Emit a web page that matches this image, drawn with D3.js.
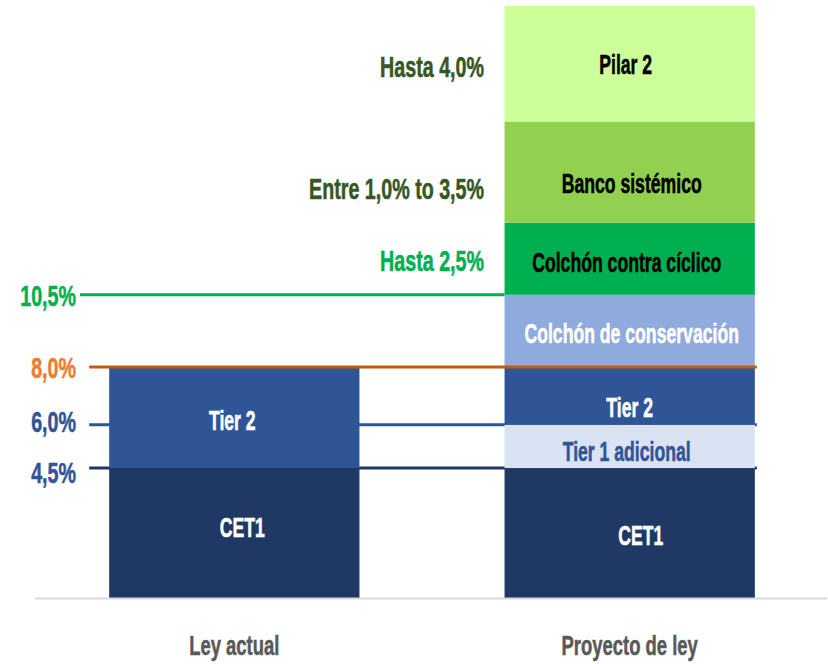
<!DOCTYPE html>
<html>
<head>
<meta charset="utf-8">
<script src="https://cdn.jsdelivr.net/npm/d3@7"></script>
<style>
  body { margin: 0; background: #fff; }
  text { font-family: "Liberation Sans", Arial, sans-serif; font-weight: bold; }
</style>
</head>
<body>
<div id="chart"></div>
<script>
// data
const categories = ["Ley actual", "Proyecto de ley"];
const components = ["CET1", "Tier 1 adicional", "Tier 2", "Colchón de conservación",
                    "Colchón contra cíclico", "Banco sistémico", "Pilar 2"];
const leyActual = [4.5, 0, 3.5, 0, 0, 0, 0];
const proyectoLey = [4.5, 1.5, 2.0, 2.5, 2.5, 3.5, 4.0];
const thresholds = [10.5, 8.0, 6.0, 4.5];
const thresholdLabels = ["10,5%", "8,0%", "6,0%", "4,5%"];
const rangeNotes = ["Hasta 2,5%", "Entre 1,0% to 3,5%", "Hasta 4,0%"];
const rangeNoteFor = ["Colchón contra cíclico", "Banco sistémico", "Pilar 2"];

const width = 828, height = 664;
const fill = {
  "CET1": "#203864", "Tier 1 adicional": "#DAE3F3", "Tier 2": "#2F5597",
  "Colchón de conservación": "#8FAADC", "Colchón contra cíclico": "#00B050",
  "Banco sistémico": "#92D050", "Pilar 2": "#CCFF99"
};
const ink = {
  "CET1": "#fff", "Tier 1 adicional": "#2F5597", "Tier 2": "#fff",
  "Colchón de conservación": "#fff", "Colchón contra cíclico": "#000",
  "Banco sistémico": "#000", "Pilar 2": "#000"
};
// small nudges so labels sit where the original puts them
const nudge = {
  "Ley actual|CET1": [8, -6], "Ley actual|Tier 2": [-2, 3],
  "Proyecto de ley|CET1": [11, 2], "Proyecto de ley|Tier 1 adicional": [-3, 5],
  "Proyecto de ley|Tier 2": [0, 11], "Proyecto de ley|Colchón de conservación": [2, 2],
  "Proyecto de ley|Colchón contra cíclico": [-3, 4], "Proyecto de ley|Banco sistémico": [2, 11],
  "Proyecto de ley|Pilar 2": [-4, 1]
};
const lineColor = ["#00B050", "#C55A11", "#2F5597", "#203864"];
const labelColor = ["#00B050", "#ED7D31", "#2F5597", "#2F5597"];
const labelShift = [0, 0, -4, 4];
const noteColor = ["#00B050", "#375623", "#375623"];
const noteShift = [2, 16, 2];

const rows = categories.map((c, i) => {
  const vals = i === 0 ? leyActual : proyectoLey;
  const r = { cat: c };
  components.forEach((k, j) => r[k] = vals[j]);
  return r;
});
const series = d3.stack().keys(components)(rows);

const x = d3.scaleBand().domain(categories).range([38, 826])
  .paddingInner(0.367).paddingOuter(0.18);
const y = d3.scaleLinear().domain([0, 20.5]).range([598, 6]);

const svg = d3.select("#chart").append("svg")
  .attr("width", width).attr("height", height);

// narrow, tall lettering: Arial-metric font squeezed sideways
function label(g, px, py, txt, size, color, anchor, weight) {
  return g.append("text")
    .attr("transform", `translate(${px},${py}) scale(0.82,1.25)`)
    .attr("text-anchor", anchor || "middle")
    .attr("dy", "0.36em")
    .style("font-size", size + "px")
    .style("font-weight", weight || "bold")
    .attr("fill", color)
    .attr("stroke", color)
    .attr("stroke-width", 0.45)
    .text(txt);
}

const xL = x(categories[0]), xP = x(categories[1]), bw = x.bandwidth();

// lines that run behind the bars
const back = svg.append("g");
[2, 3].forEach(i => {
  back.append("line")
    .attr("x1", xL - 20).attr("x2", xP + bw + 2)
    .attr("y1", y(thresholds[i])).attr("y2", y(thresholds[i]))
    .attr("stroke", lineColor[i]).attr("stroke-width", 3);
});

// bars
svg.append("g").selectAll("g")
  .data(series).join("g")
  .attr("fill", d => fill[d.key])
  .selectAll("rect")
  .data(d => d.filter(s => s[1] - s[0] > 0))
  .join("rect")
  .attr("x", d => x(d.data.cat))
  .attr("y", d => y(d[1]))
  .attr("width", bw)
  .attr("height", d => y(d[0]) - y(d[1]));

// baseline
svg.append("line")
  .attr("x1", 35).attr("x2", 827)
  .attr("y1", y(0) + 0.5).attr("y2", y(0) + 0.5)
  .attr("stroke", "#d9d9d9").attr("stroke-width", 2);

// lines in front
const front = svg.append("g");
front.append("line")
  .attr("x1", 80).attr("x2", xP)
  .attr("y1", y(thresholds[0])).attr("y2", y(thresholds[0]))
  .attr("stroke", lineColor[0]).attr("stroke-width", 3);
front.append("line")
  .attr("x1", xL - 20).attr("x2", xP + bw + 2)
  .attr("y1", y(thresholds[1])).attr("y2", y(thresholds[1]))
  .attr("stroke", lineColor[1]).attr("stroke-width", 3);

// threshold labels
thresholds.forEach((t, i) => {
  label(svg, 76, y(t) + labelShift[i], thresholdLabels[i], 24, labelColor[i], "end");
});

// segment labels
series.forEach(s => {
  s.forEach(d => {
    if (d[1] - d[0] <= 0) return;
    const n = nudge[d.data.cat + "|" + s.key] || [0, 0];
    label(svg, x(d.data.cat) + bw / 2 + n[0], y((d[0] + d[1]) / 2) + n[1],
      s.key, 21.5, ink[s.key]);
  });
});

// range notes left of the proposal bar
const prop = series.map(s => s.find(d => d.data.cat === categories[1]));
rangeNotes.forEach((t, i) => {
  const d = prop[components.indexOf(rangeNoteFor[i])];
  label(svg, 484, y((d[0] + d[1]) / 2) + noteShift[i], t, 24, noteColor[i], "end");
});

// category labels
categories.forEach(c => {
  label(svg, x(c) + bw / 2, 645, c, 22.5, "#595959", "middle", "bold");
});
</script>
</body>
</html>
